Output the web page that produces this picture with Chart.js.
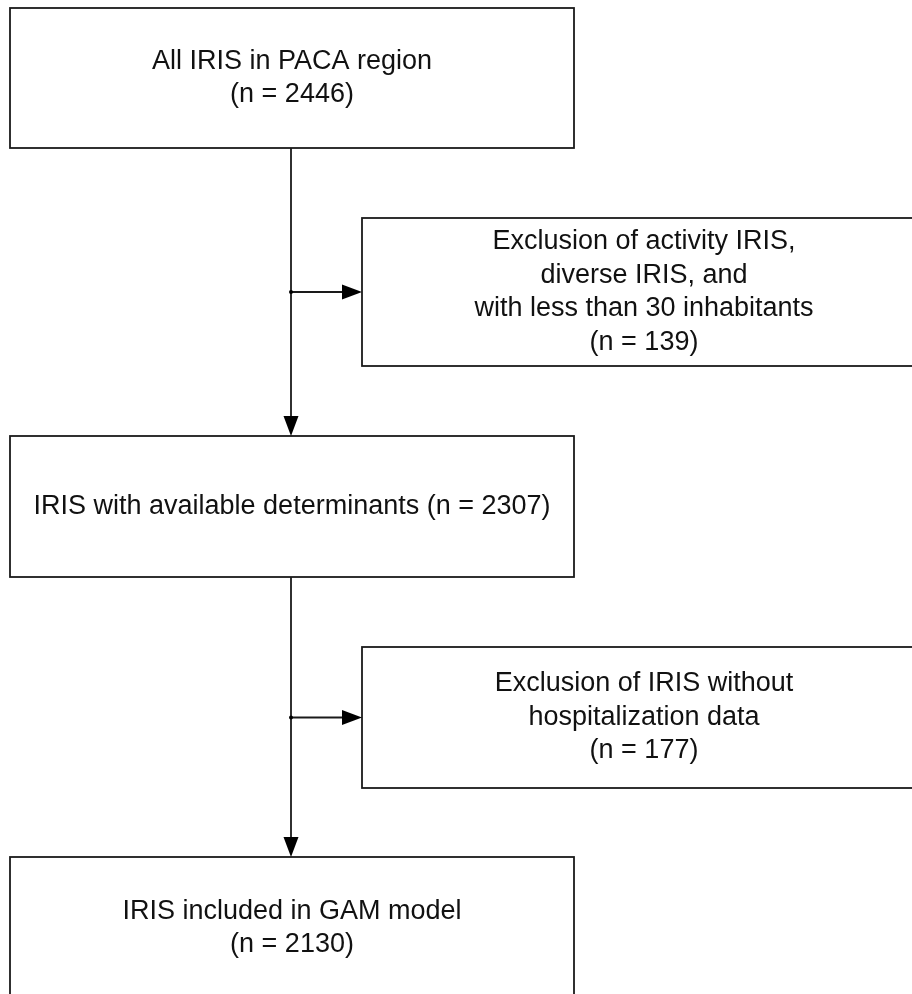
<!DOCTYPE html>
<html>
<head>
<meta charset="utf-8">
<script src="https://cdn.jsdelivr.net/npm/chart.js@4.4.1/dist/chart.umd.min.js"></script>
<style>
  html, body { margin: 0; padding: 0; background: #fff; overflow: hidden; }
  #wrap { width: 912px; height: 994px; }
</style>
</head>
<body>
<div id="wrap"><canvas id="flow" width="912" height="994"></canvas></div>
<script>
// Flow chart content
const mainLines = [
    ['All IRIS in PACA region', '(n = 2446)'],
    ['IRIS with available determinants (n = 2307)'],
    ['IRIS included in GAM model', '(n = 2130)']
];
const mainCounts = [2446, 2307, 2130];
const exclusionLines = [
    ['Exclusion of activity IRIS,', 'diverse IRIS, and', 'with less than 30 inhabitants', '(n = 139)'],
    ['Exclusion of IRIS without', 'hospitalization data', '(n = 177)']
];
const exclusionCounts = [139, 177];

// Layout (in axis units, same as pixels here)
const mainX = [10, 574];
const mainTops = [8, 436, 857];
const mainHeights = [140, 141, 142];
const exclX = [362, 926];
const exclTops = [218, 647];
const exclHeights = [148, 141];
const spineX = 291;
const lineGap = 33.5;

const flowPlugin = {
    id: 'flow',
    afterDatasetsDraw(chart) {
        const ctx = chart.ctx;
        const sx = chart.scales.x, sy = chart.scales.y;
        const px = v => sx.getPixelForValue(v);
        const py = v => sy.getPixelForValue(v);

        ctx.save();
        ctx.strokeStyle = '#1a1a1a';
        ctx.fillStyle = '#000';
        ctx.lineWidth = 1.8;

        function box(x0, x1, top, h, lines) {
            ctx.strokeRect(px(x0), py(top), px(x1) - px(x0), py(top + h) - py(top));
            ctx.fillStyle = '#111';
            ctx.font = '27px "Liberation Sans", Arial, sans-serif';
            ctx.textAlign = 'center';
            ctx.textBaseline = 'middle';
            const cx = (x0 + x1) / 2;
            const cy = top + h / 2;
            const start = cy - (lines.length - 1) * lineGap / 2;
            lines.forEach((t, i) => ctx.fillText(t, px(cx), py(start + i * lineGap)));
        }

        function arrowDown(x, y0, y1) {
            ctx.beginPath();
            ctx.moveTo(px(x), py(y0));
            ctx.lineTo(px(x), py(y1 - 18));
            ctx.stroke();
            ctx.fillStyle = '#000';
            ctx.beginPath();
            ctx.moveTo(px(x), py(y1));
            ctx.lineTo(px(x - 7.5), py(y1 - 20));
            ctx.lineTo(px(x + 7.5), py(y1 - 20));
            ctx.closePath();
            ctx.fill();
        }

        function arrowRight(x0, x1, y) {
            ctx.beginPath();
            ctx.moveTo(px(x0), py(y));
            ctx.lineTo(px(x1 - 18), py(y));
            ctx.stroke();
            ctx.fillStyle = '#000';
            ctx.beginPath();
            ctx.moveTo(px(x1), py(y));
            ctx.lineTo(px(x1 - 20), py(y - 7.5));
            ctx.lineTo(px(x1 - 20), py(y + 7.5));
            ctx.closePath();
            ctx.fill();
            ctx.beginPath();
            ctx.arc(px(x0), py(y), 2, 0, Math.PI * 2);
            ctx.fill();
        }

        mainTops.forEach((top, i) => box(mainX[0], mainX[1], top, mainHeights[i], mainLines[i]));
        exclTops.forEach((top, i) => box(exclX[0], exclX[1], top, exclHeights[i], exclusionLines[i]));

        for (let i = 0; i < mainTops.length - 1; i++) {
            arrowDown(spineX, mainTops[i] + mainHeights[i], mainTops[i + 1]);
            const midY = exclTops[i] + exclHeights[i] / 2;
            arrowRight(spineX, exclX[0], midY);
        }
        ctx.restore();
    }
};

const flowCtx = document.getElementById('flow').getContext('2d');
const flowChart = new Chart(flowCtx, {
    type: 'scatter',
    data: { datasets: [{ data: [], pointRadius: 0 }] },
    options: {
        responsive: false,
        animation: false,
        layout: { padding: 0 },
        plugins: { legend: { display: false }, tooltip: { enabled: false } },
        scales: {
            x: { type: 'linear', min: 0, max: 912, display: false },
            y: { type: 'linear', min: 0, max: 994, reverse: true, display: false }
        }
    },
    plugins: [flowPlugin]
});
</script>
</body>
</html>
